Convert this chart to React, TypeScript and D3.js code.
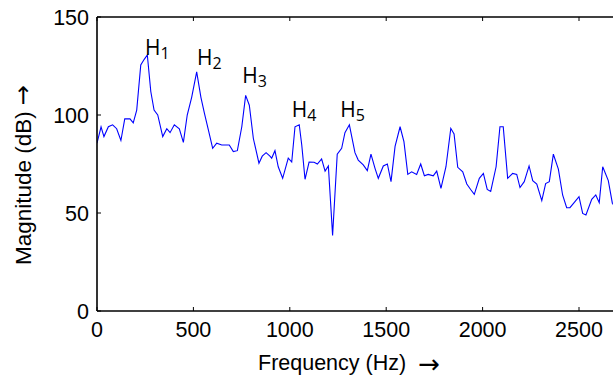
import React from "react";
import * as d3 from "d3";

// Spectrum samples: frequency (Hz) and magnitude (dB)
const freqHz = [
  0, 21, 36, 59, 81, 102, 124, 144, 171, 188, 206, 227, 245, 261, 279, 296, 315, 341, 362, 379,
  401, 427, 448, 468, 491, 517, 539, 557, 577, 600, 621, 647, 666, 686, 707, 728, 751, 771, 790, 811,
  840, 857, 877, 897, 906, 923, 940, 963, 992, 1010, 1027, 1049, 1062, 1079, 1100, 1126, 1143, 1165, 1183, 1200,
  1222, 1246, 1269, 1286, 1309, 1338, 1355, 1381, 1402, 1421, 1442, 1459, 1485, 1506, 1525, 1546, 1572, 1592, 1612, 1632,
  1658, 1679, 1698, 1718, 1744, 1762, 1784, 1810, 1835, 1852, 1871, 1897, 1918, 1938, 1957, 1983, 2004, 2024, 2042, 2070,
  2090, 2107, 2130, 2156, 2177, 2194, 2216, 2241, 2260, 2281, 2307, 2327, 2346, 2367, 2393, 2415, 2436, 2453, 2479, 2500,
  2519, 2536, 2566, 2587, 2605, 2623, 2652, 2673, 2695,
];
const magDb = [
  85.6, 94, 89, 94, 95, 93, 87, 98, 98, 96, 102.5, 125.5, 128.4, 130.6, 112, 102.5, 100, 89, 93, 91,
  95, 93, 86, 100, 109, 122, 109, 101, 92.7, 83, 85.6, 84.7, 84.7, 84.7, 81.3, 81.8, 94, 110, 105, 88,
  75.4, 79, 80.8, 79, 78, 81.8, 73.6, 67.7, 78, 76, 94, 95, 84.7, 67.2, 76, 75.9, 75, 77.6, 71.4, 74,
  38.6, 80, 83, 91, 95, 80.8, 77, 74.5, 71.6, 80, 72.8, 67.7, 74, 75, 66, 84, 94, 86.4, 69.7, 71,
  69.7, 75, 69, 69.7, 69, 71.4, 62.6, 73.6, 93.2, 90.3, 73.3, 71, 64.8, 62, 59.5, 67.7, 70.2, 62, 61, 73.6,
  94, 94, 67.7, 70.2, 69.7, 63, 66, 74, 66.5, 64.8, 56.3, 65, 66, 80, 72.4, 59.2, 52.7, 52.7, 55.8, 58.3,
  49.8, 49, 57, 59.2, 55.3, 73.6, 66.5, 55, 52,
];

// Harmonic annotations (anchor at the left/baseline of the "H")
const harmonicIdx = ["1", "2", "3", "4", "5"];
const harmonicFreq = [249, 519, 754, 1010, 1262];
const harmonicDb = [130.6, 125.5, 116.2, 98.8, 98.8];

const xTicks = [0, 500, 1000, 1500, 2000, 2500];
const yTicks = [0, 50, 100, 150];
const xMax = 2700;

export default function App() {
  const width = 613;
  const height = 381;
  const left = 97;
  const top = 17;
  const bottom = 311;
  const x = d3.scaleLinear().domain([0, xMax]).range([left, left + xMax * 0.1928]);
  const y = d3.scaleLinear().domain([0, 150]).range([bottom, top]);
  const right = x(xMax);

  const pts = freqHz.map((f, i) => [f, magDb[i]] as [number, number]);
  const line = d3
    .line<[number, number]>()
    .x((d) => x(d[0]))
    .y((d) => y(d[1]));

  const tickLen = 4;
  const font = "'Liberation Sans', Arial, Helvetica, sans-serif";

  return (
    <svg
      width={width}
      height={height}
      style={{ position: "absolute", left: 0, top: 0, background: "#fff" }}
    >
      <defs>
        <clipPath id="plotClip">
          <rect x={left} y={top} width={right - left} height={bottom - top} />
        </clipPath>
      </defs>
      <rect x={0} y={0} width={width} height={height} fill="#fff" />

      <path
        d={line(pts) || ""}
        fill="none"
        stroke="#0000ff"
        strokeWidth={1.1}
        clipPath="url(#plotClip)"
      />

      {/* axes box */}
      <g stroke="#000" strokeWidth={1.6} fill="none">
        <line x1={left} y1={bottom} x2={right} y2={bottom} />
        <line x1={left} y1={top} x2={right} y2={top} />
        <line x1={left} y1={top} x2={left} y2={bottom} />
        <line x1={right} y1={top} x2={right} y2={bottom} />
      </g>

      {/* ticks */}
      <g stroke="#000" strokeWidth={1}>
        {xTicks.map((t) => (
          <g key={"xt" + t}>
            <line x1={x(t)} x2={x(t)} y1={bottom} y2={bottom - tickLen} />
            <line x1={x(t)} x2={x(t)} y1={top} y2={top + tickLen} />
          </g>
        ))}
        {yTicks.map((t) => (
          <line key={"yt" + t} x1={left} x2={left + tickLen} y1={y(t)} y2={y(t)} />
        ))}
      </g>

      {/* tick labels */}
      <g fontFamily={font} fontSize={21.5} fill="#000">
        {xTicks.map((t) => (
          <text key={"xl" + t} x={x(t)} y={337} textAnchor="middle">
            {t}
          </text>
        ))}
        {yTicks.map((t) => (
          <text key={"yl" + t} x={89} y={y(t) + 7.5} textAnchor="end">
            {t}
          </text>
        ))}
      </g>

      {/* axis titles */}
      <text x={258} y={370} textAnchor="start" fontFamily={font} fontSize={21.5} fill="#000">
        Frequency (Hz)
        <tspan fontFamily="'DejaVu Sans', sans-serif" fontSize={26} dx={12} dy={3}>
          →
        </tspan>
      </text>
      <text
        transform={`translate(31, 265) rotate(-90)`}
        textAnchor="start"
        fontFamily={font}
        fontSize={22.5}
        fill="#000"
      >
        Magnitude (dB)
        <tspan fontFamily="'DejaVu Sans', sans-serif" fontSize={24} dx={6}>
          →
        </tspan>
      </text>

      {/* harmonic labels */}
      <g fontFamily="'Open Sans', sans-serif" fill="#000">
        {harmonicIdx.map((h, i) => (
          <text key={"h" + h} x={x(harmonicFreq[i])} y={y(harmonicDb[i])} textAnchor="start" fontSize={21}>
            H
            <tspan fontSize={16} dy={3.5}>
              {h}
            </tspan>
          </text>
        ))}
      </g>
    </svg>
  );
}
